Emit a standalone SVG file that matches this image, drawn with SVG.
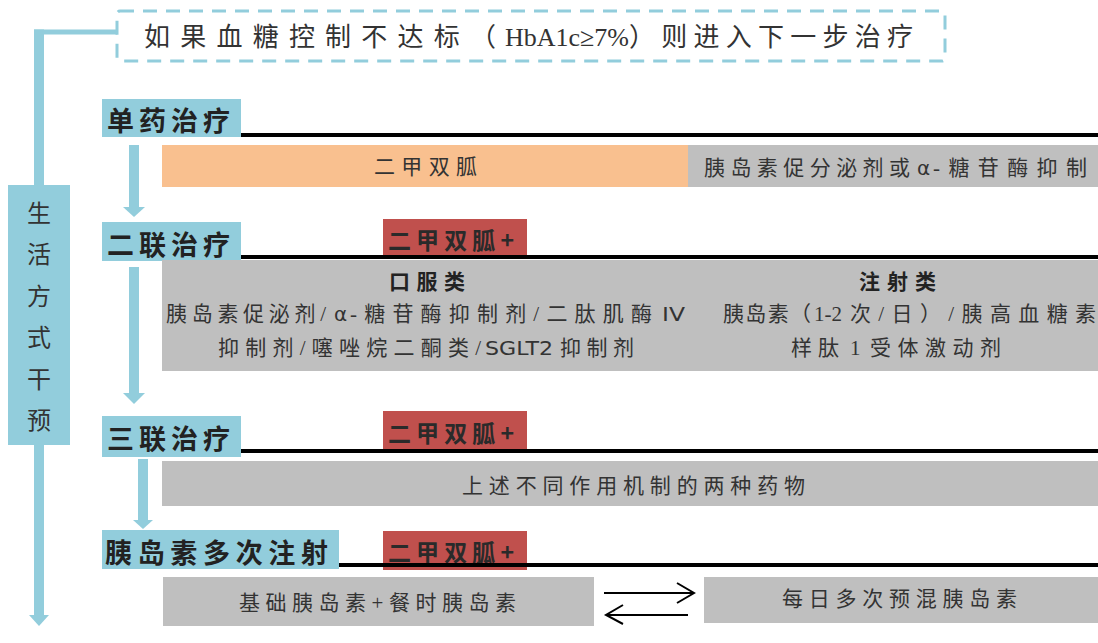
<svg xmlns="http://www.w3.org/2000/svg" width="1098" height="643" viewBox="0 0 1098 643">
<defs>
<style>
.blue{fill:#92CDDC}
.gray{fill:#BFBFBF}
.red{fill:#C0504D}
.org{fill:#F9C08F}
.rule{fill:#000}
.t{font-family:"Liberation Serif","Noto Sans CJK SC",serif;fill:#333}
.lbl{font-family:"Noto Sans CJK SC",sans-serif;font-weight:bold;font-size:27px;fill:#222}
.tag{font-family:"Noto Sans CJK SC",sans-serif;font-weight:bold;font-size:23px;fill:#2a2a2a}
.body{font-family:"Liberation Serif","Noto Sans CJK SC",serif;font-size:21px;fill:#333}
.sans{font-family:"DejaVu Sans","Noto Sans CJK SC",sans-serif;font-size:20px;fill:#333}
.head{font-family:"Noto Sans CJK SC",sans-serif;font-weight:bold;font-size:21px;fill:#222}
.open{fill:none;stroke:#000;stroke-width:2}
</style>
</defs>
<rect width="1098" height="643" fill="#fff"/>

<g id="condition">
<rect x="117" y="11" width="828" height="50" rx="3" fill="#fff" stroke="#92CDDC" stroke-width="3" stroke-dasharray="14 9"/>
<text class="t" x="144" y="46" font-size="26" textLength="352" lengthAdjust="spacing">如果血糖控制不达标（</text>
<text class="t" x="505" y="46" font-size="26">HbA1c≥7%</text>
<text class="t" x="629" y="46" font-size="26" textLength="284" lengthAdjust="spacing">）则进入下一步治疗</text>
</g>

<g id="connectors">
<rect class="blue" x="34" y="29.5" width="83" height="5"/>
<rect class="blue" x="34" y="29.5" width="10" height="156"/>
<rect class="blue" x="34" y="444" width="10" height="172"/>
<polygon class="blue" points="29,615 49,615 39,626"/>
<rect class="blue" x="129" y="145" width="10" height="63"/>
<polygon class="blue" points="123,207 145,207 134,217"/>
<rect class="blue" x="129" y="267" width="10" height="127"/>
<polygon class="blue" points="123,393 145,393 134,404"/>
<rect class="blue" x="138" y="459" width="10" height="62"/>
<polygon class="blue" points="133,520 153,520 143,529"/>
<line class="open" x1="604" y1="593" x2="694" y2="593"/>
<polyline class="open" points="677,583 694,593 677,603"/>
<line class="open" x1="688" y1="615" x2="606" y2="615"/>
<polyline class="open" points="623,605 606,615 623,624"/>
</g>

<g id="lifestyle">
<rect class="blue" x="8" y="185" width="62" height="260"/>
<g class="t" font-size="24" text-anchor="middle">
<text x="39" y="222">生</text>
<text x="39" y="263">活</text>
<text x="39" y="305">方</text>
<text x="39" y="346">式</text>
<text x="39" y="388">干</text>
<text x="39" y="429">预</text>
</g>
</g>

<g id="mono">
<rect class="blue" x="102" y="99" width="139" height="38"/>
<text class="lbl" x="107" y="131" textLength="123" lengthAdjust="spacing">单药治疗</text>
<rect class="rule" x="241" y="133" width="857" height="4"/>
<rect class="org" x="162" y="145" width="526" height="42"/>
<text class="body" x="374" y="174" textLength="103" lengthAdjust="spacing">二甲双胍</text>
<rect class="gray" x="688" y="145" width="410" height="42"/>
<text class="body" x="704" y="175" textLength="206" lengthAdjust="spacing">胰岛素促分泌剂或</text>
<text class="sans" x="917" y="175">α</text>
<text class="body" x="933" y="175" textLength="154" lengthAdjust="spacing">-糖苷酶抑制</text>
</g>

<g id="dual">
<rect class="blue" x="102" y="222" width="139" height="39"/>
<text class="lbl" x="107" y="255" textLength="123" lengthAdjust="spacing">二联治疗</text>
<rect class="red" x="383" y="219" width="144" height="37"/>
<text class="tag" x="388" y="249" textLength="126" lengthAdjust="spacing">二甲双胍+</text>
<rect class="gray" x="162" y="260" width="936" height="111"/>
<rect class="rule" x="241" y="255" width="857" height="4"/>
<text class="head" x="389" y="289" textLength="76" lengthAdjust="spacing">口服类</text>
<text class="body" x="166" y="321" textLength="160" lengthAdjust="spacing">胰岛素促泌剂/</text>
<text class="sans" x="334" y="321">α</text>
<text class="body" x="350" y="321" textLength="302" lengthAdjust="spacing">-糖苷酶抑制剂/二肽肌酶</text>
<text class="sans" x="662" y="321" textLength="23" lengthAdjust="spacingAndGlyphs">IV</text>
<text class="body" x="218" y="355" textLength="263" lengthAdjust="spacing">抑制剂/噻唑烷二酮类/</text>
<text class="sans" x="485" y="355" textLength="68" lengthAdjust="spacingAndGlyphs">SGLT2</text>
<text class="body" x="560" y="355" textLength="74" lengthAdjust="spacing">抑制剂</text>
<text class="head" x="859" y="289" textLength="77" lengthAdjust="spacing">注射类</text>
<text class="body" x="723" y="321" textLength="88" lengthAdjust="spacing">胰岛素（</text>
<text class="body" x="814" y="321">1-2</text>
<text class="body" x="850" y="321" textLength="246" lengthAdjust="spacing">次/日）/胰高血糖素</text>
<text class="body" x="791" y="355" textLength="48" lengthAdjust="spacing">样肽</text>
<text class="body" x="850" y="355">1</text>
<text class="body" x="870" y="355" textLength="131" lengthAdjust="spacing">受体激动剂</text>
</g>

<g id="triple">
<rect class="blue" x="102" y="416" width="139" height="41"/>
<text class="lbl" x="107" y="449" textLength="123" lengthAdjust="spacing">三联治疗</text>
<rect class="red" x="383" y="411" width="144" height="38"/>
<text class="tag" x="388" y="442" textLength="126" lengthAdjust="spacing">二甲双胍+</text>
<rect class="rule" x="241" y="449" width="857" height="4"/>
<rect class="gray" x="162" y="461" width="936" height="45"/>
<text class="body" x="462" y="493" textLength="343" lengthAdjust="spacing">上述不同作用机制的两种药物</text>
</g>

<g id="insulin">
<rect class="blue" x="102" y="530" width="237" height="39"/>
<text class="lbl" x="105" y="563" textLength="223" lengthAdjust="spacing">胰岛素多次注射</text>
<rect class="red" x="383" y="531" width="144" height="39"/>
<text class="tag" x="388" y="561" textLength="126" lengthAdjust="spacing">二甲双胍+</text>
<rect class="rule" x="339" y="563" width="759" height="4"/>
<rect class="gray" x="163" y="577" width="431" height="49"/>
<text class="body" x="239" y="610" textLength="277" lengthAdjust="spacing">基础胰岛素+餐时胰岛素</text>
<rect class="gray" x="704" y="577" width="394" height="46"/>
<text class="body" x="782" y="606" textLength="235" lengthAdjust="spacing">每日多次预混胰岛素</text>
</g>
</svg>
